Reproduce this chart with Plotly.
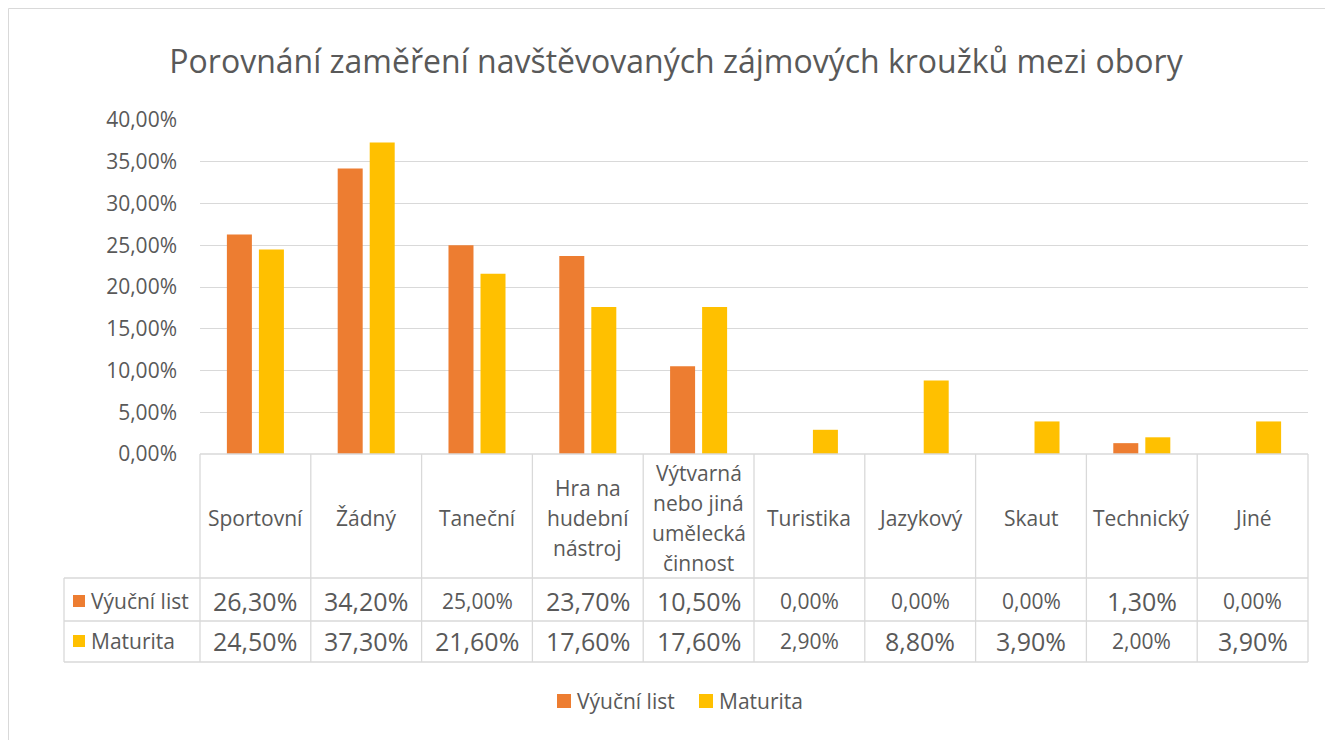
import plotly.graph_objects as go

categories = ["Sportovní", "Žádný", "Taneční", "Hra na\nhudební\nnástroj",
              "Výtvarná\nnebo jiná\numělecká\nčinnost", "Turistika", "Jazykový",
              "Skaut", "Technický", "Jiné"]
series_names = ["Výuční list", "Maturita"]
vyucni_list = [26.3, 34.2, 25.0, 23.7, 10.5, 0.0, 0.0, 0.0, 1.3, 0.0]
maturita = [24.5, 37.3, 21.6, 17.6, 17.6, 2.9, 8.8, 3.9, 2.0, 3.9]
y_ticks = [0, 5, 10, 15, 20, 25, 30, 35, 40]

# style: which table cells are drawn in the smaller font (as in the original)
small_cells = {(0, 2), (0, 5), (0, 6), (0, 7), (0, 9), (1, 5), (1, 8)}

colors = ["#ED7D31", "#FFC000"]
grid = "#D9D9D9"
txt = "#595959"
FONT = "Open Sans"

OFF = 8                       # page offset of the figure (body margin)
W, H = 1333 - OFF, 740 - OFF
# plot area in page pixels
L, R = 200, 1308
TOP, BOT = 120, 454

def py(ypix):
    return (BOT - ypix) / (BOT - TOP)

def px(xpix):
    return (xpix - L) / (R - L)

def fmt(v):
    return f"{v:.2f}".replace(".", ",") + "%"

cat_keys = [c.replace("\n", " ") for c in categories]
series = [vyucni_list, maturita]

fig = go.Figure()
for name, vals, col in zip(series_names, series, colors):
    fig.add_trace(go.Bar(x=cat_keys, y=vals, name=name, marker_color=col,
                         marker_line_width=0, showlegend=False))

shapes = []
n = len(categories)
lw = 1.3
for yp in [578, 621, 662]:
    shapes.append(dict(type="line", xref="paper", yref="paper",
                       x0=px(64), x1=1, y0=py(yp), y1=py(yp),
                       line=dict(color=grid, width=lw)))
for k in range(n + 1):
    shapes.append(dict(type="line", xref="paper", yref="paper",
                       x0=k / n, x1=k / n, y0=py(BOT), y1=py(662),
                       line=dict(color=grid, width=lw)))
shapes.append(dict(type="line", xref="paper", yref="paper",
                   x0=px(64), x1=px(64), y0=py(578), y1=py(662),
                   line=dict(color=grid, width=lw)))
# outer chart border
shapes.append(dict(type="rect", xref="paper", yref="paper",
                   x0=px(OFF + 0.5), x1=px(1345), y0=py(OFF + 0.5), y1=py(752),
                   line=dict(color=grid, width=1), layer="below"))
# legend-key squares in the table
row_centers = [601, 641]
for r, col in enumerate(colors):
    shapes.append(dict(type="rect", xref="paper", yref="paper",
                       x0=px(73), x1=px(85), y0=py(row_centers[r] - 6), y1=py(row_centers[r] + 6),
                       fillcolor=col, line=dict(width=0)))

ann = []
# header category labels
for key, lab in zip(cat_keys, categories):
    lines = lab.split("\n")
    m = len(lines)
    for j, ln in enumerate(lines):
        yc = 518 + (j - (m - 1) / 2) * 30
        ann.append(dict(x=key, xref="x", y=py(yc), yref="paper", text=ln,
                        showarrow=False, xanchor="center", yanchor="middle",
                        font=dict(family=FONT, size=21, color=txt)))
# row labels
for r, name in enumerate(series_names):
    ann.append(dict(x=px(89), xref="paper", y=py(row_centers[r]), yref="paper",
                    text=name, showarrow=False, xanchor="left", yanchor="middle",
                    font=dict(family=FONT, size=21, color=txt)))
# values
for r, vals in enumerate(series):
    for i, v in enumerate(vals):
        size = 21 if (r, i) in small_cells else 25
        ann.append(dict(x=cat_keys[i], xref="x", y=py(row_centers[r]), yref="paper",
                        text=fmt(v), showarrow=False, xanchor="center", yanchor="middle",
                        font=dict(family=FONT, size=size, color=txt)))

# bottom legend (drawn manually to match spacing)
legend_items = [(557, series_names[0], colors[0]), (699, series_names[1], colors[1])]
for x0, name, col in legend_items:
    shapes.append(dict(type="rect", xref="paper", yref="paper",
                       x0=px(x0), x1=px(x0 + 14), y0=py(694), y1=py(708),
                       fillcolor=col, line=dict(width=0)))
    ann.append(dict(x=px(x0 + 18), xref="paper", y=py(701), yref="paper", text=name,
                    showarrow=False, xanchor="left", yanchor="middle",
                    font=dict(family=FONT, size=21, color=txt)))

# baseline
shapes.append(dict(type="line", xref="paper", yref="paper", x0=0, x1=1, y0=0, y1=0,
                   line=dict(color=grid, width=lw)))

fig.update_layout(
    width=W, height=H,
    margin=dict(l=L - OFF, r=W - (R - OFF), t=TOP - OFF, b=H - (BOT - OFF)),
    paper_bgcolor="white", plot_bgcolor="white",
    barmode="group", bargap=0.422, bargroupgap=0.219,
    title=dict(text="Porovnání zaměření navštěvovaných zájmových kroužků mezi obory",
               xref="paper", x=px(676), xanchor="center",
               yref="container", y=1 - (62 - OFF) / H, yanchor="middle",
               font=dict(family=FONT, size=32, color=txt)),
    xaxis=dict(showticklabels=False, ticks="", showgrid=False, showline=False,
               zeroline=False, range=[-0.5, n - 0.5]),
    yaxis=dict(range=[0, 40], tickvals=y_ticks, ticktext=[fmt(t) for t in y_ticks],
               showgrid=True, gridcolor=grid, gridwidth=lw, zeroline=False,
               showline=False, ticks="", ticklabelstandoff=22,
               tickfont=dict(family=FONT, size=21, color=txt)),
    showlegend=False,
    shapes=shapes, annotations=ann,
)

fig.write_html("out.html")
